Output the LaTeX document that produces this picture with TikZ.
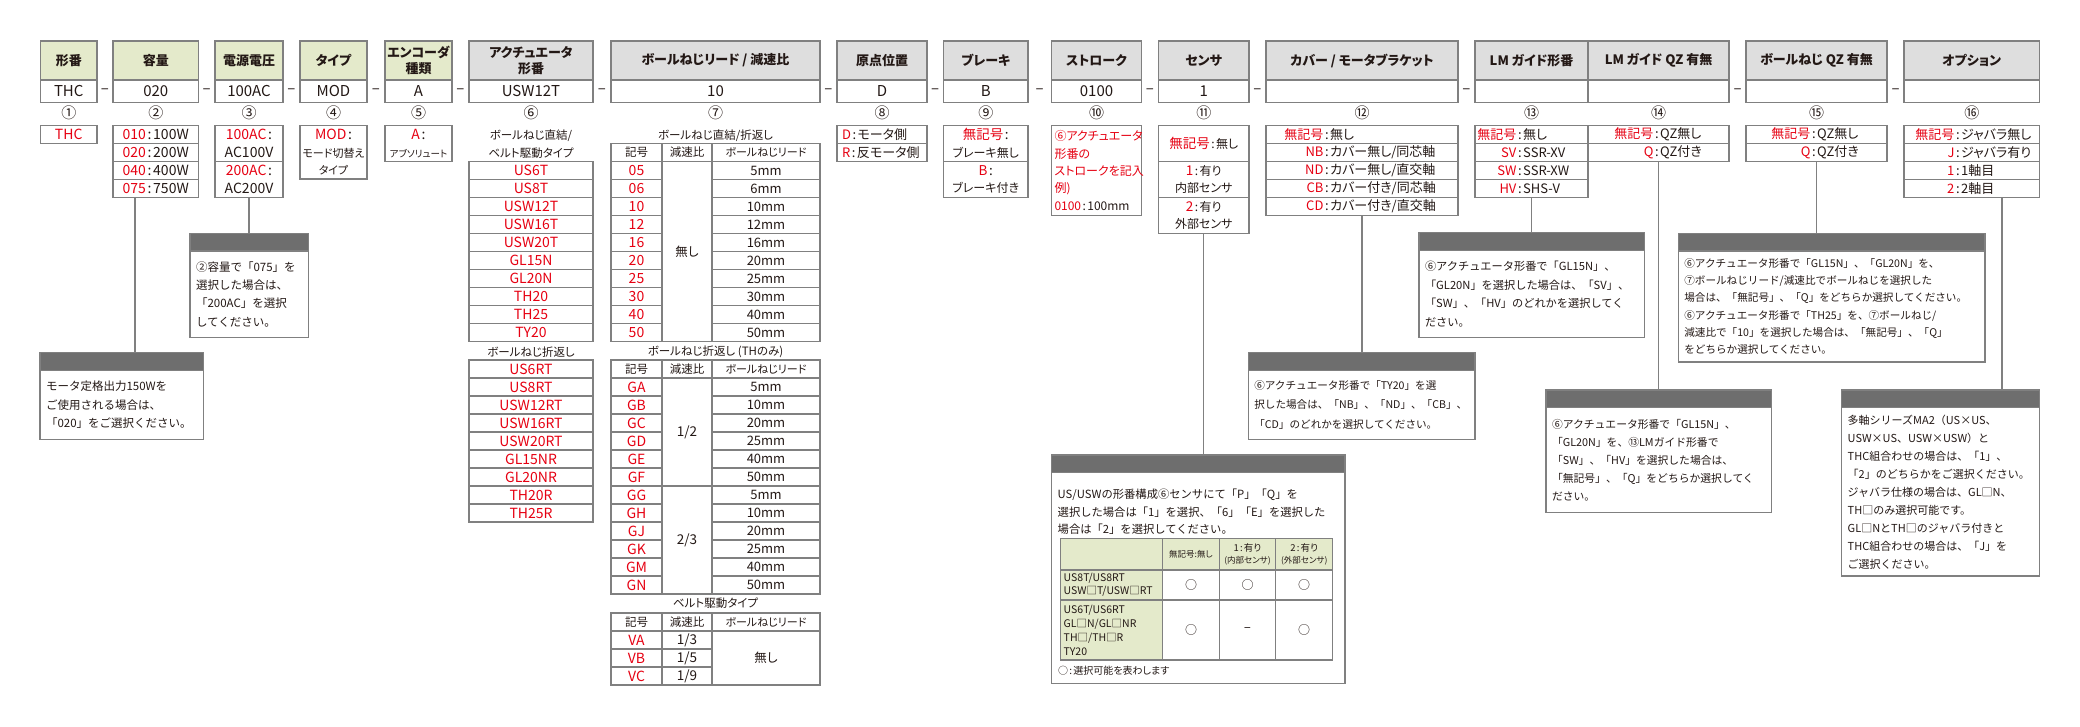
\documentclass[tikz,border=0pt]{standalone}
\usepackage{fontspec}
\setmainfont{Noto Sans CJK JP}
\newfontfamily\pjp{Noto Sans CJK JP}[RawFeature=+palt]
\usetikzlibrary{positioning}

\definecolor{headgreen}{RGB}{228,234,203}
\definecolor{headgray}{RGB}{222,222,222}
\definecolor{linegray}{RGB}{128,128,128}
\definecolor{bandgray}{RGB}{110,110,110}
\definecolor{optred}{RGB}{230,0,18}
\definecolor{inkblack}{RGB}{35,24,21}

\newcommand{\fz}[2]{\fontsize{#1}{#2}\selectfont}
\newcommand{\rd}[1]{\textcolor{optred}{#1}}
\newcommand{\cl}{\hspace{0.12em}:\hspace{0.12em}}
\newcommand{\kv}[3]{\makebox[#1][r]{\rd{#2}\hspace{0.12em}}:\hspace{0.12em}#3}

\begin{document}
\begin{tikzpicture}[x=1pt, y=-1pt]
    \tikzset{base/.style = {rectangle, draw=linegray, line width=1.1pt,
                           inner sep=0pt, outer sep=0pt, text=inkblack}}
    \tikzset{headg/.style = {base, fill=headgreen, align=center, minimum height=39pt,
                            font=\pjp\bfseries\fz{13}{16}}}
    \tikzset{heady/.style = {headg, fill=headgray}}
    \tikzset{valbox/.style = {base, fill=white, minimum height=22.5pt, font=\pjp\fz{15}{16}}}
    \tikzset{num/.style = {text=inkblack, inner sep=0pt, font=\fz{15}{15}}}
    \tikzset{sep/.style = {text=inkblack, inner sep=0pt, font=\fz{15}{15}}}
    \tikzset{opt/.style = {base, fill=white, align=center, font=\pjp\fz{14}{18}}}
    \tikzset{cell/.style = {opt, minimum height=18pt}}
    \tikzset{green cell/.style = {cell, fill=headgreen}}
    \tikzset{kvrow/.style = {base, fill=white, align=left, minimum height=18pt,
                            font=\pjp\fz{13}{18}}}
    \tikzset{lbl/.style = {text=inkblack, inner sep=0pt, font=\pjp\fz{11.5}{14}}}
    \tikzset{band/.style = {base, fill=bandgray, minimum height=17.7pt}}
    \tikzset{note/.style = {base, fill=white, align=left, inner xsep=6pt,
                           font=\fz{11}{18.3}}}
    \tikzset{conn/.style = {draw=linegray, line width=1.1pt}}

    \fill[white] (0,0) rectangle (2080,726);
    \useasboundingbox (0,0) rectangle (2080,726);

    % code row
    \foreach \i/\x/\w/\lab/\val in {1/68.75/56.5/形番/THC, 2/155.75/85.5/容量/020,
        3/249/68/電源電圧/100AC, 4/333.5/67/タイプ/MOD, 5/418.5/67/{エンコーダ\\種類}/A} {
        \node (h\i) [headg, minimum width=\w pt] at (\x,60.5) {\lab};
        \node (v\i) [valbox, minimum width=\w pt, below=0pt of h\i] {\val};
    }
    \foreach \i/\x/\w/\lab/\val in {6/531/124/{アクチュエータ\\形番}/USW12T,
        7/715.5/209/{ボールねじリード / 減速比}/10, 8/882/90/原点位置/D,
        9/985.75/84.5/ブレーキ/B, 10/1096.5/90/ストローク/0100, 11/1203.75/90.5/センサ/1,
        12/1362/192/{カバー / モータブラケット}/{}, 13/1531.5/113/LM ガイド形番/{},
        14/1658.5/141/LM ガイド QZ 有無/{}, 15/1816.5/141/ボールねじ QZ 有無/{},
        16/1971.75/135.5/オプション/{}} {
        \node (h\i) [heady, minimum width=\w pt] at (\x,60.5) {\lab};
        \node (v\i) [valbox, minimum width=\w pt, below=0pt of h\i] {\val};
    }
    \foreach \a/\b in {1/2,2/3,3/4,4/5,5/6,6/7,7/8,8/9,9/10,10/11,11/12,12/13,14/15,15/16}
        \path (v\a.east) -- (v\b.west) node (s\a) [sep, midway] {–};
    \foreach \i/\c in {1/①,2/②,3/③,4/④,5/⑤,6/⑥,7/⑦,8/⑧,9/⑨,10/⑩,11/⑪,12/⑫,13/⑬,14/⑭,15/⑮,16/⑯}
        \node (n\i) [num] at (v\i.center |- 0,113) {\c};

    % options 1-5
    \node (o1a) [cell, minimum width=56.5pt, font=\pjp\fz{14}{18}] at (68.75,134.5) {\rd{THC}};
    \foreach \code/\watt [count=\i from 0] in {010/100W,020/200W,040/400W,075/750W}
        \node (o2-\i) [cell, minimum width=85.5pt] at (155.75,134.5+18*\i) {\rd{\code}\cl\watt};
    \node (o3a) [opt, minimum width=68pt, minimum height=36pt] at (249,143.5) {\rd{100AC}\cl\\AC100V};
    \node (o3b) [opt, minimum width=68pt, minimum height=36pt] at (249,179.5) {\rd{200AC}\cl\\AC200V};
    \node (o4a) [opt, minimum width=67pt, minimum height=53.5pt, font=\pjp\fz{11}{17.5}]
        at (333.5,152.25) {{\fz{14}{17.5}\rd{MOD}\cl}\\モード切替え\\タイプ};
    \node (o5a) [opt, minimum width=67pt, minimum height=36pt, font=\pjp\fz{9.5}{17.5}]
        at (418.5,143.5) {{\fz{14}{17.5}\rd{A}\cl}\\アブソリュート};

    % options 6: actuator
    \node (l6a) [lbl] at (531,136) {ボールねじ直結/};
    \node (l6b) [lbl] at (531,153) {ベルト駆動タイプ};
    \foreach \code [count=\i from 0] in {US6T,US8T,USW12T,USW16T,USW20T,GL15N,GL20N,TH20,TH25,TY20}
        \node (a6-\i) [cell, minimum width=124pt] at (531,170.5+18*\i) {\rd{\code}};
    \node (l6c) [lbl] at (531,352) {ボールねじ折返し};
    \foreach \code [count=\i from 0] in {US6RT,US8RT,USW12RT,USW16RT,USW20RT,GL15NR,GL20NR,TH20R,TH25R}
        \node (b6-\i) [cell, minimum width=124pt] at (531,369+18*\i) {\rd{\code}};

    % options 7: lead / ratio
    \node (l7a) [lbl] at (715.5,136) {ボールねじ直結/折返し};
    \node (l7b) [lbl] at (715.5,352) {ボールねじ折返し (THのみ)};
    \node (l7c) [lbl] at (715.5,603.5) {ベルト駆動タイプ};
    \foreach \y/\j in {152.5/a,369/b,622/c} {
        \node (k7\j1) [cell, minimum width=51pt, font=\pjp\fz{11.5}{14}] at (636.5,\y) {記号};
        \node (k7\j2) [cell, minimum width=50pt, font=\pjp\fz{11.5}{14}] at (687,\y) {減速比};
        \node (k7\j3) [cell, minimum width=108pt, font=\pjp\fz{11}{14}] at (766,\y) {ボールねじリード};
    }
    \foreach \code/\lead [count=\i from 0] in {05/5,06/6,10/10,12/12,16/16,20/20,25/25,30/30,40/40,50/50} {
        \node (c7a-\i) [cell, minimum width=51pt] at (636.5,170.5+18*\i) {\rd{\code}};
        \node (r7a-\i) [cell, minimum width=108pt, font=\pjp\fz{13}{14}] at (766,170.5+18*\i) {\lead mm};
    }
    \node (m7a) [cell, minimum width=50pt, minimum height=180pt, font=\pjp\fz{12.5}{14}] at (687,251.5) {無し};
    \foreach \code/\lead [count=\i from 0] in {GA/5,GB/10,GC/20,GD/25,GE/40,GF/50,GG/5,GH/10,GJ/20,GK/25,GM/40,GN/50} {
        \node (c7b-\i) [cell, minimum width=51pt] at (636.5,387+18*\i) {\rd{\code}};
        \node (r7b-\i) [cell, minimum width=108pt, font=\pjp\fz{13}{14}] at (766,387+18*\i) {\lead mm};
    }
    \node (m7b) [cell, minimum width=50pt, minimum height=108pt, font=\pjp\fz{13.5}{14}] at (687,432) {1/2};
    \node (m7c) [cell, minimum width=50pt, minimum height=108pt, font=\pjp\fz{13.5}{14}] at (687,540) {2/3};
    \foreach \code/\ratio [count=\i from 0] in {VA/{1/3},VB/{1/5},VC/{1/9}} {
        \node (c7c-\i) [cell, minimum width=51pt] at (636.5,640+18*\i) {\rd{\code}};
        \node (r7c-\i) [cell, minimum width=50pt, font=\pjp\fz{13.5}{14}] at (687,640+18*\i) {\ratio};
    }
    \node (m7d) [cell, minimum width=108pt, minimum height=54pt, font=\pjp\fz{12.5}{14}] at (766,658) {無し};

    % options 8-11
    \node (o8a) [cell, minimum width=90pt, text width=80pt, align=left, font=\pjp\fz{13}{18}]
        at (882,134.5) {\rd{D}\cl モータ側};
    \node (o8b) [cell, minimum width=90pt, text width=80pt, align=left, font=\pjp\fz{13}{18}]
        at (882,152.5) {\rd{R}\cl 反モータ側};
    \node (o9a) [opt, minimum width=84.5pt, minimum height=36pt, font=\pjp\fz{12}{17.5}]
        at (985.75,143.5) {{\fz{13.5}{17.5}\rd{無記号}\cl}\\ブレーキ無し};
    \node (o9b) [opt, minimum width=84.5pt, minimum height=36pt, font=\pjp\fz{12}{17.5}]
        at (985.75,179.5) {{\fz{13.5}{17.5}\rd{B}\cl}\\ブレーキ付き};
    \node (o10a) [opt, minimum width=90pt, minimum height=90pt, text width=84pt, align=left,
        font=\pjp\fz{12}{17.3}] at (1096.5,170.5)
        {\rd{⑥アクチュエータ}\\\rd{形番の}\\\rd{ストロークを記入}\\\rd{例)}\\\rd{0100}\cl 100mm};
    \node (o11a) [opt, minimum width=90.5pt, minimum height=36pt, font=\pjp\fz{12}{17.5}]
        at (1203.75,143.5) {{\fz{13.5}{17.5}\rd{無記号}}\cl 無し};
    \node (o11b) [opt, minimum width=90.5pt, minimum height=36pt, font=\pjp\fz{12}{17.5}]
        at (1203.75,179.5) {{\fz{13.5}{17.5}\rd{1}}\cl 有り\\内部センサ};
    \node (o11c) [opt, minimum width=90.5pt, minimum height=36pt, font=\pjp\fz{12}{17.5}]
        at (1203.75,215.5) {{\fz{13.5}{17.5}\rd{2}}\cl 有り\\外部センサ};

    % options 12-16
    \foreach \key/\txt [count=\i from 0] in {無記号/無し, NB/{カバー無し/同芯軸}, ND/{カバー無し/直交軸},
        CB/{カバー付き/同芯軸}, CD/{カバー付き/直交軸}}
        \node (o12-\i) [kvrow, text width=192pt] at (1362,134.5+18*\i) {\kv{59pt}{\key}{\txt}};
    \foreach \key/\txt [count=\i from 0] in {無記号/無し, SV/SSR-XV, SW/SSR-XW, HV/SHS-V}
        \node (o13-\i) [kvrow, text width=113pt] at (1531.5,134.5+18*\i) {\kv{43pt}{\key}{\txt}};
    \foreach \key/\txt [count=\i from 0] in {無記号/QZ無し, Q/QZ付き}
        \node (o14-\i) [kvrow, text width=141pt] at (1658.5,134.5+18*\i) {\kv{67pt}{\key}{\txt}};
    \foreach \key/\txt [count=\i from 0] in {無記号/QZ無し, Q/QZ付き}
        \node (o15-\i) [kvrow, text width=141pt] at (1816.5,134.5+18*\i) {\kv{66pt}{\key}{\txt}};
    \foreach \key/\txt [count=\i from 0] in {無記号/ジャバラ無し, J/ジャバラ有り, 1/1軸目, 2/2軸目}
        \node (o16-\i) [kvrow, text width=135.5pt] at (1971.75,134.5+18*\i) {\kv{52pt}{\key}{\txt}};

    % notes
    \node (b2) [band, minimum width=163.3pt] at (121.65,361.55) {};
    \node (t2) [note, text width=151.3pt, minimum height=68.9pt, below=0pt of b2, font=\fz{11.5}{18.4}]
        {モータ定格出力150Wを\\ご使用される場合は、\\「020」をご選択ください。};
    \node (b3) [band, minimum width=118.3pt] at (249.15,242.15) {};
    \node (t3) [note, text width=106.3pt, minimum height=86.7pt, below=0pt of b3, font=\fz{11.5}{18.3}]
        {②容量で「075」を\\選択した場合は、\\「200AC」を選択\\してください。};
    \node (b12) [band, minimum width=226.7pt] at (1361.65,361.55) {};
    \node (t12) [note, text width=214.7pt, minimum height=68.9pt, below=0pt of b12, font=\fz{10.6}{19.3}]
        {⑥アクチュエータ形番で「TY20」を選\\択した場合は、「NB」、「ND」、「CB」、\\「CD」のどれかを選択してください。};
    \node (b13) [band, minimum width=225.3pt] at (1531.65,241.55) {};
    \node (t13) [note, text width=213.3pt, minimum height=86.9pt, below=0pt of b13, font=\fz{11.2}{18.5}]
        {⑥アクチュエータ形番で「GL15N」、\\「GL20N」を選択した場合は、「SV」、\\「SW」、「HV」のどれかを選択してく\\ださい。};
    \node (b14) [band, minimum width=225.7pt] at (1658.85,398.85) {};
    \node (t14) [note, text width=213.7pt, minimum height=105pt, below=0pt of b14, font=\fz{10.8}{17.9}]
        {⑥アクチュエータ形番で「GL15N」、\\「GL20N」を、⑬LMガイド形番で\\「SW」、「HV」を選択した場合は、\\「無記号」、「Q」をどちらか選択してく\\ださい。};
    \node (b15) [band, minimum width=306.7pt] at (1831.65,242.15) {};
    \node (t15) [note, text width=294.7pt, minimum height=111pt, below=0pt of b15, font=\fz{10.6}{17.3}]
        {⑥アクチュエータ形番で「GL15N」、「GL20N」を、\\⑦ボールねじリード/減速比でボールねじを選択した\\場合は、「無記号」、「Q」をどちらか選択してください。\\⑥アクチュエータ形番で「TH25」を、⑦ボールねじ/\\減速比で「10」を選択した場合は、「無記号」、「Q」\\をどちらか選択してください。};
    \node (b16) [band, minimum width=197.6pt] at (1940.5,398.85) {};
    \node (t16) [note, text width=185.6pt, minimum height=168.3pt, below=0pt of b16, font=\fz{11}{18}]
        {多軸シリーズMA2（US×US、\\USW×US、USW×USW）と\\THC組合わせの場合は、「1」、\\「2」のどちらかをご選択ください。\\ジャバラ仕様の場合は、GL□N、\\TH□のみ選択可能です。\\GL□NとTH□のジャバラ付きと\\THC組合わせの場合は、「J」を\\ご選択ください。};

    % sensor note with table
    \node (b11) [band, minimum width=293.3pt] at (1198.35,463.85) {};
    \node (t11) [base, fill=white, minimum width=293.3pt, minimum height=210.6pt, below=0pt of b11] {};
    \node (x11) [lbl, anchor=north west, align=left, font=\fz{11.3}{17.5}] at (1057.5,489)
        {US/USWの形番構成⑥センサにて「P」「Q」を\\選択した場合は「1」を選択、「6」「E」を選択した\\場合は「2」を選択してください。};
    \node (g00) [green cell, minimum width=102pt, minimum height=31.7pt] at (1111.7,554.15) {};
    \node (g01) [green cell, minimum width=56.6pt, minimum height=31.7pt, font=\pjp\fz{8.5}{12}]
        at (1191,554.15) {無記号:無し};
    \node (g02) [green cell, minimum width=56.4pt, minimum height=31.7pt, font=\pjp\fz{8.5}{12.5}]
        at (1247.5,554.15) {{\fz{9.5}{12.5}1\cl 有り}\\(内部センサ)};
    \node (g03) [green cell, minimum width=57pt, minimum height=31.7pt, font=\pjp\fz{8.5}{12.5}]
        at (1304.2,554.15) {{\fz{9.5}{12.5}2\cl 有り}\\(外部センサ)};
    \node (g10) [green cell, minimum width=102pt, minimum height=30pt, text width=96pt, align=left,
        font=\fz{10.5}{13.5}] at (1111.7,585) {US8T/US8RT\\USW□T/USW□RT};
    \node (g20) [green cell, minimum width=102pt, minimum height=60pt, text width=96pt, align=left,
        font=\fz{10.5}{14}] at (1111.7,630) {US6T/US6RT\\GL□N/GL□NR\\TH□/TH□R\\TY20};
    \foreach \x/\w/\j in {1191/56.6/1, 1247.5/56.4/2, 1304.2/57/3}
        \node (g1\j) [cell, minimum width=\w pt, minimum height=30pt, font=\fz{12}{12}] at (\x,585) {○};
    \node (g21) [cell, minimum width=56.6pt, minimum height=60pt, font=\fz{12}{12}] at (1191,630) {○};
    \node (g22) [cell, minimum width=56.4pt, minimum height=60pt, font=\fz{12}{12}] at (1247.5,630) {−};
    \node (g23) [cell, minimum width=57pt, minimum height=60pt, font=\fz{12}{12}] at (1304.2,630) {○};
    \node (cap11) [lbl, anchor=west, font=\pjp\fz{10}{12}] at (1058,671) {○\cl 選択可能を表わします};

    % connectors
    \draw[conn] (o2-3.south -| 135,0) -- (b2.north -| 135,0);
    \draw[conn] (o3b.south) -- (o3b.south |- b3.north);
    \draw[conn] (o11c.south) -- (o11c.south |- b11.north);
    \draw[conn] (o12-4.south) -- (o12-4.south |- b12.north);
    \draw[conn] (o13-3.south) -- (o13-3.south |- b13.north);
    \draw[conn] (o14-1.south) -- (o14-1.south |- b14.north);
    \draw[conn] (o15-1.south) -- (o15-1.south |- b15.north);
    \draw[conn] (o16-3.south -| 2002,0) -- (b16.north -| 2002,0);

\end{tikzpicture}
\end{document}
